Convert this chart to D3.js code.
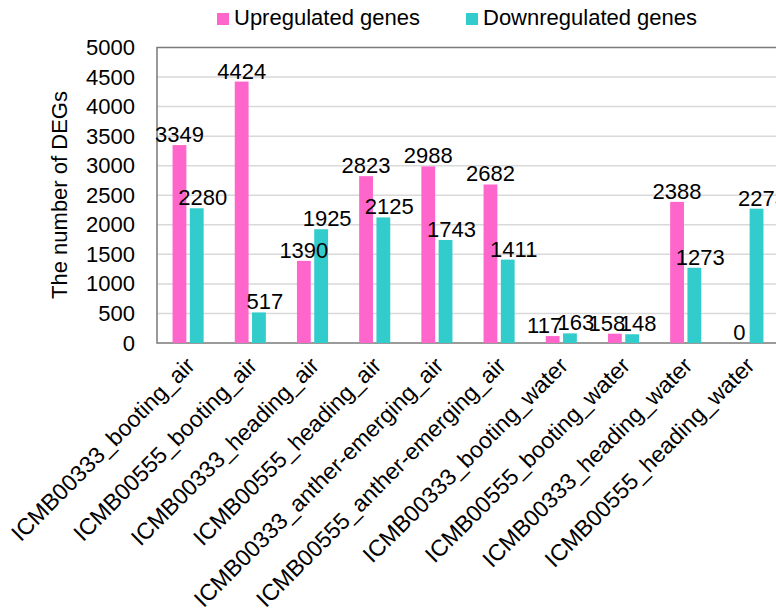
<!DOCTYPE html>
<html>
<head>
<meta charset="utf-8">
<script src="https://cdn.jsdelivr.net/npm/d3@7/dist/d3.min.js"></script>
<style>
  html, body { margin: 0; padding: 0; background: #ffffff; }
  svg { display: block; }
  text { font-family: "Liberation Sans", Arial, sans-serif; fill: #000; }
</style>
</head>
<body>
<svg id="chart" width="776" height="613"></svg>
<script>
// Differentially expressed gene counts per comparison
const categories = [
  "ICMB00333_booting_air",
  "ICMB00555_booting_air",
  "ICMB00333_heading_air",
  "ICMB00555_heading_air",
  "ICMB00333_anther-emerging_air",
  "ICMB00555_anther-emerging_air",
  "ICMB00333_booting_water",
  "ICMB00555_booting_water",
  "ICMB00333_heading_water",
  "ICMB00555_heading_water"
];
const upregulated   = [3349, 4424, 1390, 2823, 2988, 2682, 117, 158, 2388, 0];
const downregulated = [2280, 517, 1925, 2125, 1743, 1411, 163, 148, 1273, 2273];
const seriesNames = ["Upregulated genes", "Downregulated genes"];
const seriesColors = ["#FF66CC", "#33CCCC"];
const yTicks = [0, 500, 1000, 1500, 2000, 2500, 3000, 3500, 4000, 4500, 5000];

const svg = d3.select("#chart");
const plot = { left: 157, right: 779, top: 47.5, bottom: 343 };
const fontSize = 22;
const catFontSize = 23;

const x0 = d3.scaleBand()
  .domain(categories)
  .range([plot.left, plot.right])
  .paddingInner(0.5)
  .paddingOuter(0.25);

const x1 = d3.scaleBand()
  .domain(seriesNames)
  .range([0, x0.bandwidth()])
  .paddingInner(0.2);

const y = d3.scaleLinear().domain([0, 5000]).range([plot.bottom, plot.top]);

// gridlines
svg.append("g")
  .selectAll("line")
  .data(yTicks.filter(t => t > 0 && t < 5000))
  .join("line")
  .attr("x1", plot.left).attr("x2", plot.right)
  .attr("y1", d => y(d)).attr("y2", d => y(d))
  .attr("stroke", "#d9d9d9").attr("stroke-width", 1.5);

// plot frame
svg.append("rect")
  .attr("x", plot.left).attr("y", plot.top)
  .attr("width", plot.right - plot.left).attr("height", plot.bottom - plot.top)
  .attr("fill", "none").attr("stroke", "#7a7a7a").attr("stroke-width", 1.5);

// y axis labels
const yAxis = d3.axisLeft(y).tickValues(yTicks).tickFormat(d3.format("d"))
  .tickSize(0).tickPadding(22);
const gy = svg.append("g").attr("transform", `translate(${plot.left},0)`).call(yAxis);
gy.select(".domain").remove();
gy.selectAll("text")
  .style("font-size", fontSize + "px")
  .style("font-family", '"Liberation Sans", Arial, sans-serif')
  .attr("fill", "#000");

// y axis title
svg.append("text")
  .attr("transform", `translate(67,195) rotate(-90)`)
  .attr("text-anchor", "middle")
  .style("font-size", fontSize + "px")
  .text("The number of DEGs");

// bars
const seriesData = [upregulated, downregulated];
const bars = [];
categories.forEach((c, i) => {
  seriesNames.forEach((s, j) => {
    bars.push({ cat: c, series: s, j: j, value: seriesData[j][i] });
  });
});

svg.append("g")
  .selectAll("rect")
  .data(bars)
  .join("rect")
  .attr("x", d => x0(d.cat) + x1(d.series))
  .attr("y", d => y(d.value))
  .attr("width", x1.bandwidth())
  .attr("height", d => plot.bottom - y(d.value))
  .attr("fill", d => seriesColors[d.j]);

// value labels: centred over bars, second-series labels nudged right,
// first-series labels pushed left when they collide with their neighbour
const labelW = v => String(v).length * fontSize * 0.556;
const labelH = 16;
const labels = bars.map(d => ({
  ...d,
  cx: x0(d.cat) + x1(d.series) + x1.bandwidth() / 2 + (d.j === 1 ? 6 : 0),
  by: y(d.value) - 3
}));
categories.forEach(c => {
  const [a, b] = labels.filter(l => l.cat === c);
  const overlapX = (a.cx + labelW(a.value) / 2) > (b.cx - labelW(b.value) / 2);
  const overlapY = Math.abs(a.by - b.by) < labelH;
  if (overlapX && overlapY) a.cx -= 8;
});

svg.append("g")
  .selectAll("text")
  .data(labels)
  .join("text")
  .attr("x", d => d.cx)
  .attr("y", d => d.by)
  .attr("text-anchor", "middle")
  .style("font-size", fontSize + "px")
  .text(d => d.value);

// category labels
svg.append("g")
  .selectAll("text")
  .data(categories)
  .join("text")
  .attr("transform", d => `translate(${x0(d) + x0.bandwidth() / 2 + 8},367) rotate(-45)`)
  .attr("text-anchor", "end")
  .style("font-size", catFontSize + "px")
  .text(d => d);

// legend
const legendItems = [
  { name: seriesNames[0], color: seriesColors[0], x: 217 },
  { name: seriesNames[1], color: seriesColors[1], x: 466 }
];
const lg = svg.append("g").selectAll("g").data(legendItems).join("g")
  .attr("transform", d => `translate(${d.x},0)`);
lg.append("rect")
  .attr("x", 0).attr("y", 13).attr("width", 12).attr("height", 12)
  .attr("fill", d => d.color);
lg.append("text")
  .attr("x", 17).attr("y", 25)
  .style("font-size", fontSize + "px")
  .text(d => d.name);
</script>
</body>
</html>
